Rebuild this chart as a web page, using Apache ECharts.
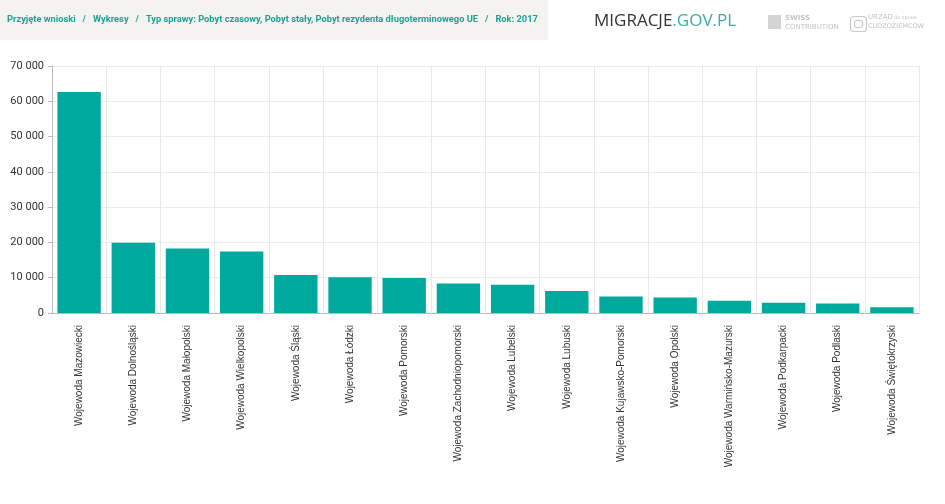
<!DOCTYPE html>
<html>
<head>
<meta charset="utf-8">
<script src="https://cdn.jsdelivr.net/npm/echarts@6/dist/echarts.min.js"></script>
<style>
  html, body { margin: 0; padding: 0; background: #fff; }
  #chart { width: 945px; height: 504px; }
</style>
</head>
<body>
<div id="chart"></div>
<script>
// województwa (kolejność jak na wykresie)
var categories = [
  'Wojewoda Mazowiecki', 'Wojewoda Dolnośląski', 'Wojewoda Małopolski',
  'Wojewoda Wielkopolski', 'Wojewoda Śląski', 'Wojewoda Łódzki',
  'Wojewoda Pomorski', 'Wojewoda Zachodniopomorski', 'Wojewoda Lubelski',
  'Wojewoda Lubuski', 'Wojewoda Kujawsko-Pomorski', 'Wojewoda Opolski',
  'Wojewoda Warmińsko-Mazurski', 'Wojewoda Podkarpacki', 'Wojewoda Podlaski',
  'Wojewoda Świętokrzyski'
];
// liczba przyjętych wniosków
var values = [62600, 19900, 18250, 17400, 10750, 10150, 9950, 8350, 8000, 6200, 4700, 4400, 3500, 2900, 2700, 1600];
var breadcrumb = 'Przyjęte wnioski   /   Wykresy   /   Typ sprawy: Pobyt czasowy, Pobyt stały, Pobyt rezydenta długoterminowego UE   /   Rok: 2017';

var chart = echarts.init(document.getElementById('chart'));

var option = {
  animation: false,
  grid: { left: 52, right: 26, top: 66, bottom: 191 },
  graphic: [
    // pasek nawigacji
    { type: 'rect', left: 0, top: 0, shape: { width: 548, height: 40 }, style: { fill: '#f4f3f0' } },
    { type: 'text', left: 7, top: 15, style: { text: breadcrumb, fill: '#1fa195', font: 'bold 9.3px Roboto' } },
    // logo migracje.gov.pl
    {
      type: 'text', left: 594, top: 13,
      style: {
        text: '{a|MIGRACJE}{b|.GOV.PL}',
        rich: {
          a: { fill: '#333333', fontFamily: 'Open Sans', fontSize: 17 },
          b: { fill: '#3aada5', fontFamily: 'Open Sans', fontSize: 17 }
        }
      }
    },
    // swiss contribution
    { type: 'rect', left: 768, top: 15, shape: { width: 13, height: 14 }, style: { fill: '#d4d4d4' } },
    { type: 'text', left: 785, top: 15, style: { text: 'SWISS', fill: '#c4c4c4', font: 'bold 7px "DejaVu Sans"' } },
    { type: 'text', left: 785, top: 24, style: { text: 'CONTRIBUTION', fill: '#c4c4c4', font: '7px "DejaVu Sans"' } },
    // urząd do spraw cudzoziemców
    { type: 'rect', left: 848, top: 14, shape: { width: 16, height: 15, r: 3 }, style: { fill: 'none', stroke: '#c8c8c8', lineWidth: 1.2 } },
    { type: 'rect', left: 852, top: 18, shape: { width: 8, height: 7, r: 2 }, style: { fill: 'none', stroke: '#c8c8c8', lineWidth: 1.2 } },
    { type: 'text', left: 868, top: 14, style: { text: 'URZĄD', fill: '#c4c4c4', font: '7px "DejaVu Sans"' } },
    { type: 'text', left: 894, top: 15, style: { text: 'do spraw', fill: '#c4c4c4', font: '5px "DejaVu Sans"' } },
    { type: 'text', left: 868, top: 23, style: { text: 'CUDZOZIEMCÓW', fill: '#c4c4c4', font: '6.5px "DejaVu Sans"' } }
  ],
  xAxis: {
    type: 'category',
    data: categories,
    axisLine: { lineStyle: { color: '#bbbbbb' } },
    axisTick: { alignWithLabel: true, length: 4, lineStyle: { color: '#bbbbbb' } },
    splitLine: { show: true, lineStyle: { color: '#e8e8e8' } },
    axisLabel: {
      rotate: 90,
      interval: 0,
      margin: 12,
      color: '#333',
      fontFamily: 'Liberation Sans',
      fontSize: 10
    }
  },
  yAxis: {
    type: 'value',
    min: 0,
    max: 70000,
    interval: 10000,
    axisLine: { show: true, lineStyle: { color: '#bbbbbb' } },
    axisTick: { show: true, length: 4, lineStyle: { color: '#bbbbbb' } },
    splitLine: { lineStyle: { color: '#ebebeb' } },
    axisLabel: {
      color: '#333',
      fontFamily: 'Roboto',
      fontSize: 11,
      margin: 8,
      formatter: function (v) {
        return String(v).replace(/\B(?=(\d{3})+(?!\d))/g, ' ');
      }
    }
  },
  series: [{
    type: 'bar',
    data: values,
    barCategoryGap: '20%',
    itemStyle: { color: '#00a99d' }
  }]
};

chart.setOption(option);
</script>
</body>
</html>
